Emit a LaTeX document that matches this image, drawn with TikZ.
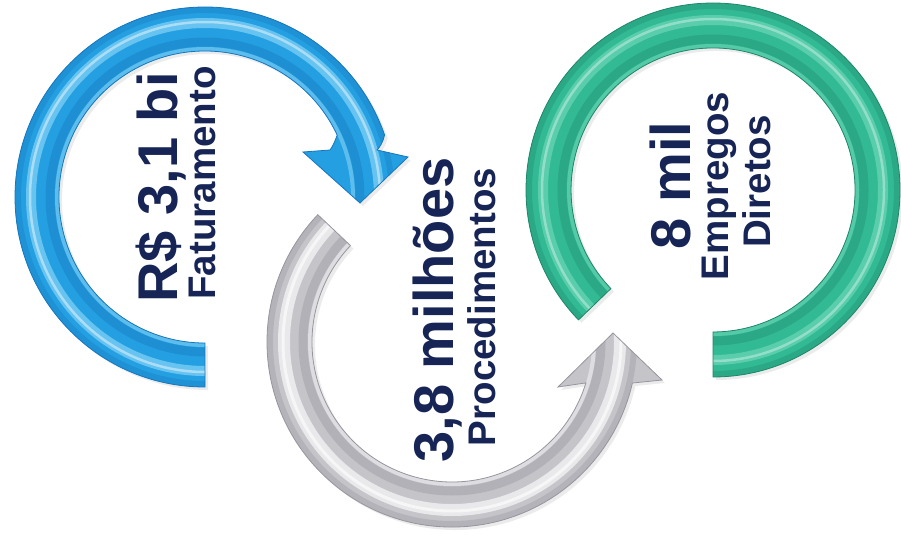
\documentclass[tikz,border=0pt]{standalone}
\usepackage{fontspec}
\setmainfont{Liberation Sans}
\definecolor{navy}{RGB}{22,36,86}
\definecolor{bluemain}{RGB}{36,160,226}
\definecolor{bluedark}{RGB}{22,118,190}
\definecolor{bluelight}{RGB}{140,215,248}
\definecolor{graymain}{RGB}{196,196,201}
\definecolor{graydark}{RGB}{150,150,158}
\definecolor{graylight}{RGB}{240,240,243}
\definecolor{greenmain}{RGB}{50,186,148}
\definecolor{greendark}{RGB}{30,135,106}
\definecolor{greenlight}{RGB}{118,218,188}
\begin{document}
\begin{tikzpicture}[x=1pt,y=1pt,
  bigtxt/.style={rotate=90, anchor=base, text=navy, font=\fontsize{56}{60}\selectfont\bfseries, inner sep=0pt},
  smalltxt/.style={rotate=90, anchor=base, text=navy, font=\fontsize{38.5}{42}\selectfont\bfseries, inner sep=0pt},
  shadow/.style={fill=black, opacity=.08, shift={(3pt,-3pt)}}]
\useasboundingbox (0,0) rectangle (901,539);
\fill[white] (0,0) rectangle (901,539);

\def\bluepath{(205,152) arc[start angle=270, end angle=19.05, radius=190pt] .. controls (383,397) and (380,392) .. (377,389) -- (408,382) -- (360,336) -- (303,387) -- (330,389) .. controls (333,393) and (335,398) .. (337.2,403.9) arc[start angle=25.1, end angle=270, radius=146pt] -- cycle}
\def\graypath{(317.8,324.3) arc[start angle=136.5, end angle=347.2, radius=185pt] -- (662,159) -- (613,206) -- (558,152) -- (585.9,156.1) arc[start angle=343, end angle=136.5, radius=140pt] -- cycle}
\def\greenpath{(713,162) arc[start angle=-90, end angle=224, radius=187pt] -- (610.9,250.4) arc[start angle=224, end angle=-90, radius=142pt] -- cycle}

% shadows
\path[shadow] \bluepath;
\path[shadow] \graypath;
\path[shadow] \greenpath;

% blue arrow
\begin{scope}
\clip \bluepath;
\fill[bluemain] (0,0) rectangle (901,539);
\draw[bluedark, line width=9pt, opacity=.40] (205,342) circle[radius=155pt];
\draw[bluelight, line width=4pt, opacity=.55] (205,342) circle[radius=148pt];
\draw[bluedark, line width=6pt, opacity=.35] (205,342) circle[radius=187pt];
\draw[bluelight, line width=10pt, opacity=.65] (205,342) circle[radius=174pt];
\draw[white, line width=2.5pt, opacity=.45] (205,342) circle[radius=175pt];
\end{scope}
\draw[bluedark, line width=.8pt] \bluepath;

% gray arrow
\begin{scope}
\clip \graypath;
\fill[graymain] (0,0) rectangle (901,539);
\draw[graydark, line width=9pt, opacity=.40] (452,197) circle[radius=149pt];
\draw[graylight, line width=4pt, opacity=.6] (452,197) circle[radius=142pt];
\draw[graydark, line width=6pt, opacity=.35] (452,197) circle[radius=182pt];
\draw[graylight, line width=12pt, opacity=.85] (452,197) circle[radius=168pt];
\draw[white, line width=3pt, opacity=.6] (452,197) circle[radius=169pt];
\end{scope}
\draw[graydark, line width=.8pt] \graypath;

% green ring
\begin{scope}
\clip \greenpath;
\fill[greenmain] (0,0) rectangle (901,539);
\draw[greendark, line width=9pt, opacity=.35] (713,349) circle[radius=151pt];
\draw[greenlight, line width=4pt, opacity=.5] (713,349) circle[radius=144pt];
\draw[greendark, line width=6pt, opacity=.35] (713,349) circle[radius=184pt];
\draw[greenlight, line width=10pt, opacity=.6] (713,349) circle[radius=170pt];
\draw[white, line width=2.5pt, opacity=.35] (713,349) circle[radius=171pt];
\end{scope}
\draw[greendark, line width=.8pt] \greenpath;

% texts
\node[bigtxt] (bval) at (177,351.5) {R\$ 3,1 bi};
\node[smalltxt] (blab) at (215,356) {Faturamento};
\node[bigtxt] (gval) at (453,229) {3,8 milhões};
\node[smalltxt] (glab) at (495,232) {Procedimentos};
\node[bigtxt] (tval) at (690,353.5) {8 mil};
\node[smalltxt] (tlab1) at (728,353) {Empregos};
\node[smalltxt] (tlab2) at (770,357.5) {Diretos};
\end{tikzpicture}
\end{document}
